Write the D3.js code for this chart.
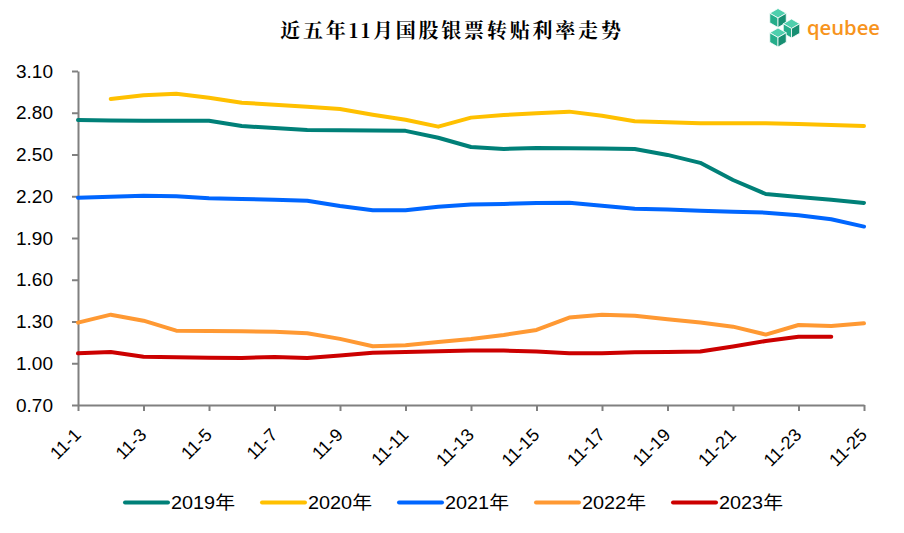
<!DOCTYPE html>
<html><head><meta charset="utf-8">
<script src="https://cdn.jsdelivr.net/npm/d3@7"></script>
<style>html,body{margin:0;padding:0;background:#fff;}svg{display:block;}</style>
</head><body>
<svg id="chart" width="904" height="533"></svg>
<script>
const categories = ["11-1","11-2","11-3","11-4","11-5","11-6","11-7","11-8","11-9","11-10","11-11","11-12","11-13","11-14","11-15","11-16","11-17","11-18","11-19","11-20","11-21","11-22","11-23","11-24","11-25"];
const seriesNames = ["2019年","2020年","2021年","2022年","2023年"];
const seriesColors = ["#008078","#FFC000","#0066FF","#FF9933","#CC0000"];
const v2019 = [2.748,2.745,2.743,2.742,2.742,2.705,2.69,2.676,2.674,2.672,2.67,2.62,2.554,2.54,2.547,2.545,2.544,2.54,2.497,2.44,2.317,2.216,2.195,2.175,2.152];
const v2020 = [null,2.899,2.925,2.937,2.908,2.872,2.858,2.843,2.827,2.786,2.75,2.70,2.765,2.784,2.796,2.808,2.779,2.739,2.731,2.724,2.724,2.724,2.72,2.712,2.705];
const v2021 = [2.19,2.197,2.204,2.20,2.185,2.18,2.175,2.168,2.13,2.10,2.10,2.125,2.14,2.145,2.152,2.154,2.132,2.11,2.104,2.096,2.089,2.082,2.063,2.035,1.982];
const v2022 = [1.292,1.349,1.306,1.234,1.232,1.23,1.227,1.216,1.175,1.122,1.129,1.153,1.175,1.203,1.239,1.328,1.349,1.342,1.316,1.292,1.263,1.206,1.275,1.268,1.287];
const v2023 = [1.071,1.081,1.047,1.043,1.04,1.038,1.045,1.038,1.055,1.076,1.081,1.086,1.091,1.091,1.084,1.072,1.072,1.079,1.081,1.084,1.12,1.16,1.191,1.191,null];
const yTicks = [0.70,1.00,1.30,1.60,1.90,2.20,2.50,2.80,3.10];
const xTickLabels = ["11-1","11-3","11-5","11-7","11-9","11-11","11-13","11-15","11-17","11-19","11-21","11-23","11-25"];
const titleText = "近五年11月国股银票转贴利率走势";

const seriesValues = [v2019,v2020,v2021,v2022,v2023];
const svg = d3.select("#chart");
const m = {left:78, right:864, top:71, bottom:405};
const x = d3.scalePoint().domain(categories).range([m.left, m.right]);
const y = d3.scaleLinear().domain([0.70,3.10]).range([m.bottom, m.top]);
const axisColor = "#808080";
const latin = "Arial, 'Liberation Sans', sans-serif";

// y axis
const ya = svg.append("g").attr("transform",`translate(${m.left},0)`)
  .call(d3.axisLeft(y).tickValues(yTicks).tickFormat(d3.format(".2f")).tickSize(6).tickSizeOuter(0).tickPadding(19));
ya.select(".domain").attr("stroke",axisColor).attr("stroke-width",2);
ya.selectAll(".tick line").attr("stroke",axisColor).attr("stroke-width",2);
ya.selectAll(".tick text").attr("font-family",latin).attr("font-size",19).attr("fill","#000");

// x axis
const xa = svg.append("g").attr("transform",`translate(0,${m.bottom})`)
  .call(d3.axisBottom(x).tickValues(xTickLabels).tickSize(6).tickSizeOuter(0));
xa.select(".domain").attr("stroke",axisColor).attr("stroke-width",2);
xa.selectAll(".tick line").attr("stroke",axisColor).attr("stroke-width",2);
xa.selectAll(".tick text")
  .attr("font-family",latin).attr("font-size",18).attr("fill","#000")
  .attr("text-anchor","end").attr("x",0).attr("y",0).attr("dy",0).attr("dx",0)
  .attr("transform","translate(3.5,31) rotate(-45)");

// lines
seriesValues.forEach((vals,si)=>{
  svg.append("path").datum(vals).attr("fill","none")
    .attr("stroke",seriesColors[si]).attr("stroke-width",4)
    .attr("stroke-linejoin","round").attr("stroke-linecap","round")
    .attr("d", d3.line().defined(d=>d!=null).x((d,i)=>x(categories[i])).y(d=>y(d))(vals));
});

// title
svg.append("text").attr("x",452).attr("y",38).attr("text-anchor","middle")
  .attr("font-family","'Noto Serif CJK SC','Noto Sans CJK SC',sans-serif").attr("font-weight","bold")
  .attr("font-size",20).attr("letter-spacing",2.8).attr("fill","#000").text(titleText);

// legend
const lg = svg.append("g");
seriesNames.forEach((n,i)=>{
  const x0 = 125 + i*137;
  lg.append("line").attr("x1",x0).attr("x2",x0+43).attr("y1",502.5).attr("y2",502.5)
    .attr("stroke",seriesColors[i]).attr("stroke-width",4).attr("stroke-linecap","round");
  lg.append("text").attr("x",x0+46).attr("y",509).attr("font-family","Arial, 'Liberation Sans','Noto Sans CJK SC', sans-serif")
    .attr("font-size",18).attr("fill","#000").attr("textLength",64).attr("lengthAdjust","spacingAndGlyphs").text(n);
});

// logo
const logo = svg.append("g");
function cube(g,cx,cy,s){
  const h = s*0.866;
  const top=[[cx,cy-s],[cx+h,cy-s/2],[cx,cy],[cx-h,cy-s/2]];
  const left=[[cx-h,cy-s/2],[cx,cy],[cx,cy+s],[cx-h,cy+s/2]];
  const right=[[cx,cy],[cx+h,cy-s/2],[cx+h,cy+s/2],[cx,cy+s]];
  [[top,"#4fcfad"],[left,"#25ad8a"],[right,"#178f72"]].forEach(([p,c])=>{
    g.append("polygon").attr("points",p.join(" ")).attr("fill",c).attr("stroke","#fff").attr("stroke-width",0.8);
  });
}
cube(logo,778,18,9.5);
cube(logo,791.5,28.5,9.5);
cube(logo,778,37.5,9.5);
svg.append("text").attr("x",807).attr("y",34.5).attr("font-family","'Open Sans',Arial,sans-serif")
  .attr("font-size",20).attr("font-weight",600).attr("fill","#F7941D").attr("textLength",73).attr("lengthAdjust","spacingAndGlyphs").text("qeubee");
</script>
</body></html>
